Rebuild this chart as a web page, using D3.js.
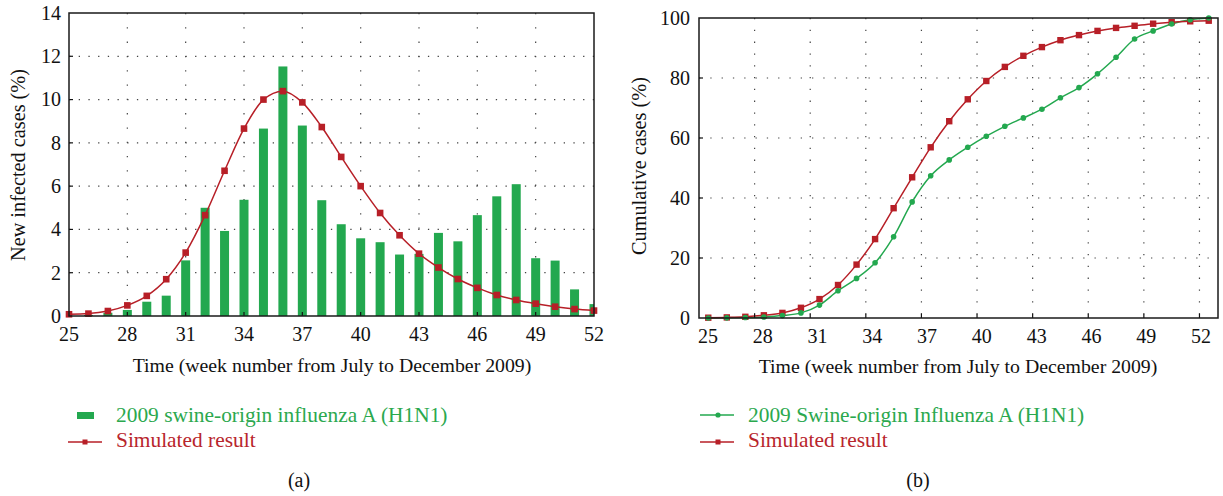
<!doctype html>
<html>
  <head>
    <meta charset="utf-8">
    <title>H1N1 new and cumulative cases</title>
    <script src="https://cdnjs.cloudflare.com/ajax/libs/d3/7.8.5/d3.min.js"></script>
    <style>
      body { margin: 0; background: #fff; }
      svg { font-family: "Liberation Serif", "DejaVu Serif", serif; }
    </style>
  </head>
  <body>
    <div id="chart"></div>
    <script>
      // week numbers, July to December 2009
      const weeks = [25, 26, 27, 28, 29, 30, 31, 32, 33, 34, 35, 36, 37, 38,
                     39, 40, 41, 42, 43, 44, 45, 46, 47, 48, 49, 50, 51, 52];

      // (a) new infected cases (%)
      const observedNew = [0, 0.05, 0.15, 0.28, 0.66, 0.94, 2.57, 5.0, 3.93, 5.37, 8.66, 11.53, 8.8, 5.35,
                           4.24, 3.59, 3.41, 2.84, 2.87, 3.84, 3.45, 4.66, 5.53, 6.09, 2.67, 2.56, 1.23, 0.55];
      const simulatedNew = [0.08, 0.11, 0.23, 0.49, 0.93, 1.7, 2.93, 4.66, 6.71, 8.66, 10.0, 10.39, 9.87, 8.73,
                            7.35, 6.0, 4.76, 3.73, 2.88, 2.24, 1.71, 1.3, 0.97, 0.74, 0.57, 0.43, 0.32, 0.25];

      // (b) cumulative cases (%)
      const observedCum = [0, 0.05, 0.15, 0.35, 0.8, 1.7, 4.3, 9.1, 13.2, 18.4, 27.1, 38.7, 47.4, 52.7,
                           56.9, 60.6, 63.9, 66.7, 69.6, 73.4, 76.8, 81.4, 86.9, 93.0, 95.7, 98.0, 99.4, 100];
      const simulatedCum = [0.1, 0.2, 0.4, 0.9, 1.7, 3.4, 6.3, 11.0, 17.8, 26.3, 36.6, 46.9, 56.9, 65.6,
                            72.9, 79.0, 83.7, 87.4, 90.3, 92.6, 94.3, 95.7, 96.7, 97.4, 98.1, 98.6, 98.9, 99.1];

      const xTicks = [25, 28, 31, 34, 37, 40, 43, 46, 49, 52];
      const yTicksA = [0, 2, 4, 6, 8, 10, 12, 14];
      const yTicksB = [0, 20, 40, 60, 80, 100];

      const green = '#23a84f', red = '#b71f27';
      const greenText = '#2ba84e', redText = '#b8252c';

      const svg = d3.select('#chart').append('svg')
        .attr('width', 1223).attr('height', 496);

      // ---------- panel (a) ----------
      const xA = d3.scaleLinear().domain([25, 52]).range([69, 594]);
      const yA = d3.scaleLinear().domain([0, 14]).range([316, 13]);
      const gA = svg.append('g');

      svg.append('clipPath').attr('id', 'clipA')
        .append('rect').attr('x', 69).attr('y', 13).attr('width', 525).attr('height', 303);

      // dotted grid
      gA.selectAll('.hgrid').data(yTicksA.slice(1, -1)).join('line')
        .attr('x1', xA(25)).attr('x2', xA(52))
        .attr('y1', d => yA(d)).attr('y2', d => yA(d))
        .attr('stroke', '#444').attr('stroke-width', 1.2).attr('stroke-dasharray', '1.3,8.4');
      gA.selectAll('.vgrid').data(xTicks.slice(1, -1)).join('line')
        .attr('x1', d => xA(d)).attr('x2', d => xA(d))
        .attr('y1', yA(14)).attr('y2', yA(0))
        .attr('stroke', '#444').attr('stroke-width', 1.2).attr('stroke-dasharray', '1.3,13');

      // bars
      gA.append('g').attr('clip-path', 'url(#clipA)')
        .selectAll('rect').data(weeks).join('rect')
        .attr('x', (d) => xA(d) - 4.5)
        .attr('width', 9)
        .attr('y', (d, i) => yA(observedNew[i]))
        .attr('height', (d, i) => yA(0) - yA(observedNew[i]))
        .attr('fill', green);

      // simulated line
      gA.append('path')
        .datum(weeks.map((w, i) => [w, simulatedNew[i]]))
        .attr('d', d3.line().x(d => xA(d[0])).y(d => yA(d[1])).curve(d3.curveMonotoneX))
        .attr('fill', 'none').attr('stroke', red).attr('stroke-width', 1.5);
      gA.selectAll('.sq').data(weeks).join('rect')
        .attr('x', d => xA(d) - 3.3)
        .attr('y', (d, i) => yA(simulatedNew[i]) - 3.3)
        .attr('width', 6.6).attr('height', 6.6)
        .attr('fill', red);

      // inward ticks
      gA.selectAll('.xt').data(xTicks.slice(1, -1)).join('line')
        .attr('x1', d => xA(d)).attr('x2', d => xA(d))
        .attr('y1', yA(0)).attr('y2', yA(0) - 4)
        .attr('stroke', '#111').attr('stroke-width', 1.2);
      gA.selectAll('.yt').data(yTicksA.slice(1, -1)).join('line')
        .attr('x1', xA(25)).attr('x2', xA(25) + 4)
        .attr('y1', d => yA(d)).attr('y2', d => yA(d))
        .attr('stroke', '#111').attr('stroke-width', 1.2);

      // frame
      gA.append('rect')
        .attr('x', xA(25)).attr('y', yA(14))
        .attr('width', xA(52) - xA(25)).attr('height', yA(0) - yA(14))
        .attr('fill', 'none').attr('stroke', '#1a1a1a').attr('stroke-width', 1.5);

      // tick labels
      gA.selectAll('.xl').data(xTicks).join('text')
        .attr('x', d => xA(d)).attr('y', 341)
        .attr('text-anchor', 'middle').attr('font-size', 20).attr('fill', '#111')
        .text(d => d);
      gA.selectAll('.yl').data(yTicksA).join('text')
        .attr('x', 61).attr('y', d => yA(d))
        .attr('dy', '0.34em')
        .attr('text-anchor', 'end').attr('font-size', 20).attr('fill', '#111')
        .text(d => d);

      gA.append('text')
        .attr('x', 332).attr('y', 372)
        .attr('text-anchor', 'middle').attr('font-size', 19.8).attr('fill', '#111')
        .text('Time (week number from July to December 2009)');
      gA.append('text')
        .attr('transform', 'translate(25,165) rotate(-90)')
        .attr('text-anchor', 'middle').attr('font-size', 20.3).attr('fill', '#111')
        .text('New infected cases (%)');

      // legend (a)
      gA.append('rect').attr('x', 77).attr('y', 412).attr('width', 17).attr('height', 7).attr('fill', green);
      gA.append('text').attr('x', 116).attr('y', 422)
        .attr('font-size', 21.4).attr('fill', greenText)
        .text('2009 swine-origin influenza A (H1N1)');
      gA.append('line').attr('x1', 68).attr('x2', 102).attr('y1', 442).attr('y2', 442)
        .attr('stroke', red).attr('stroke-width', 1.5);
      gA.append('rect').attr('x', 82.5).attr('y', 439.5).attr('width', 5).attr('height', 5).attr('fill', red);
      gA.append('text').attr('x', 116).attr('y', 447)
        .attr('font-size', 21.4).attr('fill', redText)
        .text('Simulated result');

      gA.append('text').attr('x', 299).attr('y', 487)
        .attr('text-anchor', 'middle').attr('font-size', 20).attr('fill', '#111')
        .text('(a)');

      // ---------- panel (b) ----------
      const xB = d3.scaleLinear().domain([25, 53]).range([699, 1218]);
      const yB = d3.scaleLinear().domain([0, 100]).range([318, 18]);
      const gB = svg.append('g');

      gB.selectAll('.hgrid').data(yTicksB.slice(1, -1)).join('line')
        .attr('x1', xB(25)).attr('x2', xB(53))
        .attr('y1', d => yB(d)).attr('y2', d => yB(d))
        .attr('stroke', '#444').attr('stroke-width', 1.2).attr('stroke-dasharray', '1.3,10');
      gB.selectAll('.vgrid').data(xTicks.slice(1)).join('line')
        .attr('x1', d => xB(d)).attr('x2', d => xB(d))
        .attr('y1', yB(100)).attr('y2', yB(0))
        .attr('stroke', '#444').attr('stroke-width', 1.2).attr('stroke-dasharray', '1.3,10.5');

      const lineB = d3.line().x(d => xB(d[0] + 0.5)).y(d => yB(d[1])).curve(d3.curveMonotoneX);

      gB.append('path')
        .datum(weeks.map((w, i) => [w, observedCum[i]]))
        .attr('d', lineB)
        .attr('fill', 'none').attr('stroke', green).attr('stroke-width', 1.5);
      gB.append('path')
        .datum(weeks.map((w, i) => [w, simulatedCum[i]]))
        .attr('d', lineB)
        .attr('fill', 'none').attr('stroke', red).attr('stroke-width', 1.5);

      gB.selectAll('.sq').data(weeks).join('rect')
        .attr('x', d => xB(d + 0.5) - 3.2)
        .attr('y', (d, i) => yB(simulatedCum[i]) - 3.2)
        .attr('width', 6.4).attr('height', 6.4)
        .attr('fill', red);
      gB.selectAll('.dot').data(weeks).join('circle')
        .attr('cx', d => xB(d + 0.5))
        .attr('cy', (d, i) => yB(observedCum[i]))
        .attr('r', 2.8)
        .attr('fill', green);

      gB.selectAll('.xt').data(xTicks.slice(1)).join('line')
        .attr('x1', d => xB(d)).attr('x2', d => xB(d))
        .attr('y1', yB(0)).attr('y2', yB(0) - 4)
        .attr('stroke', '#111').attr('stroke-width', 1.2);
      gB.selectAll('.yt').data(yTicksB.slice(1, -1)).join('line')
        .attr('x1', xB(25)).attr('x2', xB(25) + 4)
        .attr('y1', d => yB(d)).attr('y2', d => yB(d))
        .attr('stroke', '#111').attr('stroke-width', 1.2);

      gB.append('rect')
        .attr('x', xB(25)).attr('y', yB(100))
        .attr('width', xB(53) - xB(25)).attr('height', yB(0) - yB(100))
        .attr('fill', 'none').attr('stroke', '#1a1a1a').attr('stroke-width', 1.5);

      // tick labels sit slightly right of the ticks on the left side of this axis
      const xLabB = d3.scaleLinear().domain([25, 52]).range([xB(25) + 9, xB(52) + 1.5]);
      gB.selectAll('.xl').data(xTicks).join('text')
        .attr('x', d => xLabB(d)).attr('y', 343)
        .attr('text-anchor', 'middle').attr('font-size', 20).attr('fill', '#111')
        .text(d => d);
      gB.selectAll('.yl').data(yTicksB).join('text')
        .attr('x', 690).attr('y', d => yB(d))
        .attr('dy', '0.34em')
        .attr('text-anchor', 'end').attr('font-size', 20).attr('fill', '#111')
        .text(d => d);

      gB.append('text')
        .attr('x', 958).attr('y', 373)
        .attr('text-anchor', 'middle').attr('font-size', 19.8).attr('fill', '#111')
        .text('Time (week number from July to December 2009)');
      gB.append('text')
        .attr('transform', 'translate(646,166) rotate(-90)')
        .attr('text-anchor', 'middle').attr('font-size', 20.3).attr('fill', '#111')
        .text('Cumulative cases (%)');

      // legend (b)
      gB.append('line').attr('x1', 700).attr('x2', 734).attr('y1', 415).attr('y2', 415)
        .attr('stroke', green).attr('stroke-width', 1.5);
      gB.append('circle').attr('cx', 718).attr('cy', 415).attr('r', 2.6).attr('fill', green);
      gB.append('text').attr('x', 748).attr('y', 422)
        .attr('font-size', 21.4).attr('fill', greenText)
        .text('2009 Swine-origin Influenza A (H1N1)');
      gB.append('line').attr('x1', 700).attr('x2', 734).attr('y1', 442).attr('y2', 442)
        .attr('stroke', red).attr('stroke-width', 1.5);
      gB.append('rect').attr('x', 715.5).attr('y', 439.5).attr('width', 5).attr('height', 5).attr('fill', red);
      gB.append('text').attr('x', 748).attr('y', 447)
        .attr('font-size', 21.4).attr('fill', redText)
        .text('Simulated result');

      gB.append('text').attr('x', 918).attr('y', 487)
        .attr('text-anchor', 'middle').attr('font-size', 20).attr('fill', '#111')
        .text('(b)');
    </script>
  </body>
</html>
